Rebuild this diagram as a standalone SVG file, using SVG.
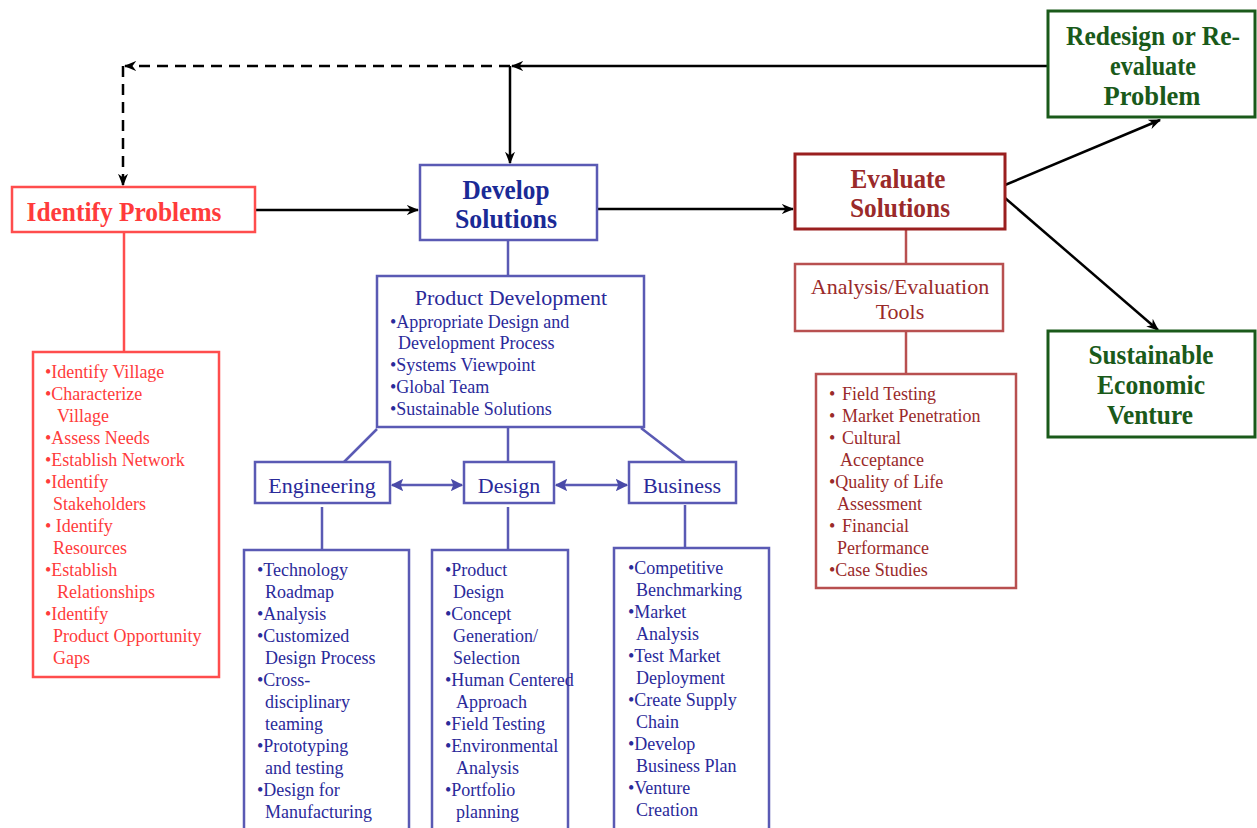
<svg xmlns="http://www.w3.org/2000/svg" width="1257" height="828" viewBox="0 0 1257 828">
<defs>
<marker id="ab" viewBox="0 0 10 10" refX="9" refY="5" markerWidth="5" markerHeight="5" orient="auto-start-reverse" markerUnits="strokeWidth"><path d="M0,1 L10,5 L0,9 L3,5 z" fill="#000"/></marker>
<marker id="au" viewBox="0 0 10 10" refX="9" refY="5" markerWidth="5" markerHeight="5" orient="auto-start-reverse" markerUnits="strokeWidth"><path d="M0,0 L10,5 L0,10 L2,5 z" fill="#4a4aa8"/></marker>
</defs>
<style>
text{font-family:"Liberation Serif","Times New Roman",serif}
.h{font-weight:bold;font-size:27px;text-anchor:middle}
.m{font-size:22px;text-anchor:middle}
.l{font-size:18px}
.bl{fill:none;stroke:#5a5ab4;stroke-width:2.5}
.blt{fill:#2a2a9a}
.rd{fill:none;stroke:#ff4d4d;stroke-width:2.5}
.rdt{fill:#ff3b3b}
.mr{fill:none;stroke:#b85050;stroke-width:2.5}
.mrt{fill:#9a2a2a}
.gr{fill:none;stroke:#1a5a1a;stroke-width:3}
.grt{fill:#1a5a1a}
.k{fill:none;stroke:#000;stroke-width:2.5}
</style>

<g id="connectors">
<path class="k" d="M1048,66 L512,66" marker-end="url(#ab)"/>
<path class="k" d="M510,66 L510,163" marker-end="url(#ab)"/>
<path class="k" d="M510,66 L125,66" stroke-dasharray="11,7" marker-end="url(#ab)"/>
<path class="k" d="M123,66 L123,185" stroke-dasharray="11,7" marker-end="url(#ab)"/>
<path class="k" d="M255,210 L418,210" marker-end="url(#ab)"/>
<path class="k" d="M597,209 L793,209" marker-end="url(#ab)"/>
<path class="k" d="M1005,185 L1160,120" marker-end="url(#ab)"/>
<path class="k" d="M1005,198 L1158,330" marker-end="url(#ab)"/>
<path class="rd" d="M124,232 L124,352"/>
<path class="bl" d="M508,240 L508,276"/>
<path class="bl" d="M377,429 L344,462"/>
<path class="bl" d="M508,427 L508,462"/>
<path class="bl" d="M641,428 L685,462"/>
<path class="bl" d="M392,485 L462,485" marker-start="url(#au)" marker-end="url(#au)"/>
<path class="bl" d="M556,485 L627,485" marker-start="url(#au)" marker-end="url(#au)"/>
<path class="bl" d="M322,507 L322,550"/>
<path class="bl" d="M508,507 L508,550"/>
<path class="bl" d="M685,505 L685,548"/>
<path class="mr" d="M906,229 L906,264"/>
<path class="mr" d="M906,331 L906,374"/>
</g>

<g id="identify-problems">
<rect class="rd" x="12" y="187" width="243" height="45"/>
<text class="h rdt" x="124" y="221" textLength="195" lengthAdjust="spacingAndGlyphs">Identify Problems</text>
</g>

<g id="identify-list">
<rect class="rd" x="33" y="352" width="186" height="325"/>
<text class="l rdt">
<tspan x="45" y="378">•Identify Village</tspan>
<tspan x="45" y="400">•Characterize</tspan>
<tspan x="57" y="422">Village</tspan>
<tspan x="45" y="444">•Assess Needs</tspan>
<tspan x="45" y="466">•Establish Network</tspan>
<tspan x="45" y="488">•Identify</tspan>
<tspan x="53" y="510">Stakeholders</tspan>
<tspan x="45" y="532">• Identify</tspan>
<tspan x="53" y="554">Resources</tspan>
<tspan x="45" y="576">•Establish</tspan>
<tspan x="57" y="598">Relationships</tspan>
<tspan x="45" y="620">•Identify</tspan>
<tspan x="53" y="642">Product Opportunity</tspan>
<tspan x="53" y="664">Gaps</tspan>
</text>
</g>

<g id="develop-solutions">
<rect class="bl" x="420" y="165" width="177" height="75"/>
<text class="h" fill="#1a2a96" x="506" y="199" textLength="87" lengthAdjust="spacingAndGlyphs">Develop</text>
<text class="h" fill="#1a2a96" x="506" y="228" textLength="102" lengthAdjust="spacingAndGlyphs">Solutions</text>
</g>

<g id="product-development">
<rect class="bl" x="377" y="276" width="267" height="151"/>
<text class="m blt" x="511" y="305">Product Development</text>
<text class="l blt">
<tspan x="390" y="328">•Appropriate Design and</tspan>
<tspan x="398" y="349">Development Process</tspan>
<tspan x="390" y="371">•Systems Viewpoint</tspan>
<tspan x="390" y="393">•Global Team</tspan>
<tspan x="390" y="415">•Sustainable Solutions</tspan>
</text>
</g>

<g id="engineering">
<rect class="bl" x="255" y="462" width="135" height="41"/>
<text class="m blt" x="322" y="493">Engineering</text>
</g>
<g id="design">
<rect class="bl" x="464" y="462" width="90" height="41"/>
<text class="m blt" x="509" y="493">Design</text>
</g>
<g id="business">
<rect class="bl" x="629" y="462" width="107" height="41"/>
<text class="m blt" x="682" y="493">Business</text>
</g>

<g id="engineering-list">
<rect class="bl" x="244" y="550" width="165" height="290"/>
<text class="l blt">
<tspan x="257" y="576">•Technology</tspan>
<tspan x="265" y="598">Roadmap</tspan>
<tspan x="257" y="620">•Analysis</tspan>
<tspan x="257" y="642">•Customized</tspan>
<tspan x="265" y="664">Design Process</tspan>
<tspan x="257" y="686">•Cross-</tspan>
<tspan x="265" y="708">disciplinary</tspan>
<tspan x="265" y="730">teaming</tspan>
<tspan x="257" y="752">•Prototyping</tspan>
<tspan x="265" y="774">and testing</tspan>
<tspan x="257" y="796">•Design for</tspan>
<tspan x="265" y="818">Manufacturing</tspan>
</text>
</g>

<g id="design-list">
<rect class="bl" x="432" y="550" width="136" height="290"/>
<text class="l blt">
<tspan x="445" y="576">•Product</tspan>
<tspan x="453" y="598">Design</tspan>
<tspan x="445" y="620">•Concept</tspan>
<tspan x="453" y="642">Generation/</tspan>
<tspan x="453" y="664">Selection</tspan>
<tspan x="445" y="686">•Human Centered</tspan>
<tspan x="456" y="708">Approach</tspan>
<tspan x="445" y="730">•Field Testing</tspan>
<tspan x="445" y="752">•Environmental</tspan>
<tspan x="456" y="774">Analysis</tspan>
<tspan x="445" y="796">•Portfolio</tspan>
<tspan x="456" y="818">planning</tspan>
</text>
</g>

<g id="business-list">
<rect class="bl" x="614" y="548" width="155" height="292"/>
<text class="l blt">
<tspan x="628" y="574">•Competitive</tspan>
<tspan x="636" y="596">Benchmarking</tspan>
<tspan x="628" y="618">•Market</tspan>
<tspan x="636" y="640">Analysis</tspan>
<tspan x="628" y="662">•Test Market</tspan>
<tspan x="636" y="684">Deployment</tspan>
<tspan x="628" y="706">•Create Supply</tspan>
<tspan x="636" y="728">Chain</tspan>
<tspan x="628" y="750">•Develop</tspan>
<tspan x="636" y="772">Business Plan</tspan>
<tspan x="628" y="794">•Venture</tspan>
<tspan x="636" y="816">Creation</tspan>
</text>
</g>

<g id="evaluate-solutions">
<rect fill="none" stroke="#9a1f1f" stroke-width="3" x="795" y="154" width="210" height="75"/>
<text class="h mrt" x="898" y="188" textLength="95" lengthAdjust="spacingAndGlyphs">Evaluate</text>
<text class="h mrt" x="900" y="217" textLength="100" lengthAdjust="spacingAndGlyphs">Solutions</text>
</g>

<g id="analysis-tools">
<rect class="mr" x="795" y="264" width="208" height="67"/>
<text class="m mrt" x="900" y="294">Analysis/Evaluation</text>
<text class="m mrt" x="900" y="319">Tools</text>
</g>

<g id="analysis-list">
<rect class="mr" x="816" y="374" width="200" height="214"/>
<text class="l mrt">
<tspan x="829" y="400">•</tspan><tspan x="842" y="400">Field Testing</tspan>
<tspan x="829" y="422">•</tspan><tspan x="842" y="422">Market Penetration</tspan>
<tspan x="829" y="444">•</tspan><tspan x="842" y="444">Cultural</tspan>
<tspan x="840" y="466">Acceptance</tspan>
<tspan x="829" y="488">•Quality of Life</tspan>
<tspan x="837" y="510">Assessment</tspan>
<tspan x="829" y="532">•</tspan><tspan x="842" y="532">Financial</tspan>
<tspan x="837" y="554">Performance</tspan>
<tspan x="829" y="576">•Case Studies</tspan>
</text>
</g>

<g id="redesign">
<rect class="gr" x="1048" y="11" width="207" height="106"/>
<text class="h grt" x="1153" y="45" textLength="174" lengthAdjust="spacingAndGlyphs">Redesign or Re-</text>
<text class="h grt" x="1153" y="75" textLength="86" lengthAdjust="spacingAndGlyphs">evaluate</text>
<text class="h grt" x="1152" y="105" textLength="97" lengthAdjust="spacingAndGlyphs">Problem</text>
</g>

<g id="sustainable">
<rect class="gr" x="1048" y="331" width="207" height="106"/>
<text class="h grt" x="1151" y="364" textLength="125" lengthAdjust="spacingAndGlyphs">Sustainable</text>
<text class="h grt" x="1151" y="394" textLength="108" lengthAdjust="spacingAndGlyphs">Economic</text>
<text class="h grt" x="1150" y="424" textLength="86" lengthAdjust="spacingAndGlyphs">Venture</text>
</g>
</svg>
